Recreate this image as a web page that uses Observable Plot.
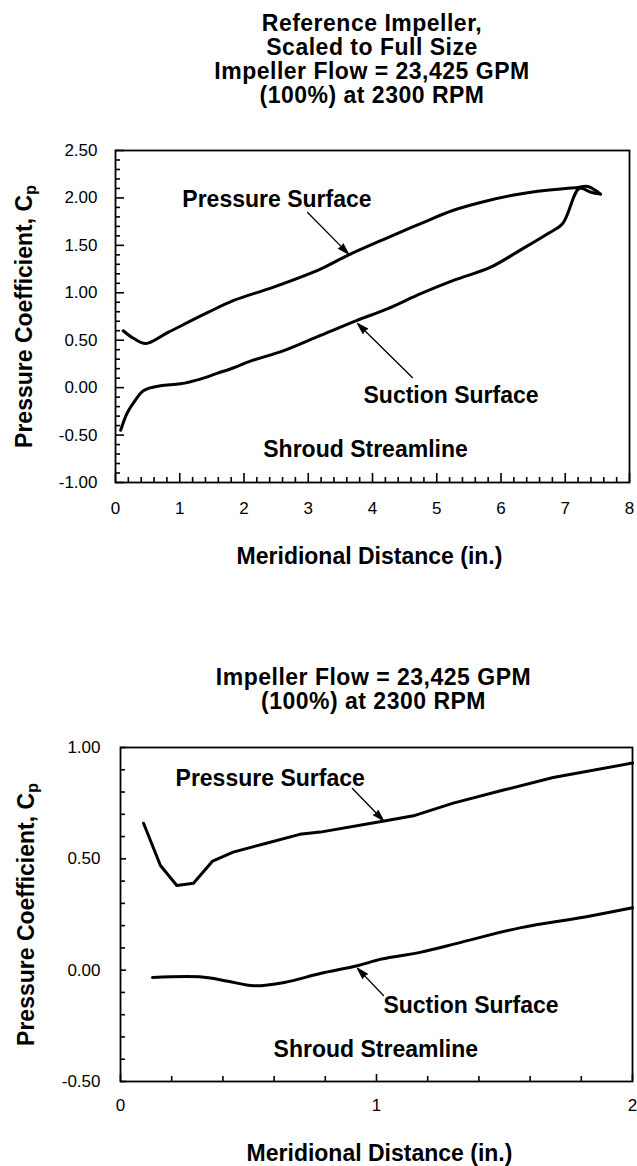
<!DOCTYPE html>
<html><head><meta charset="utf-8">
<script src="https://cdn.jsdelivr.net/npm/d3@7"></script>
<script src="https://cdn.jsdelivr.net/npm/@observablehq/plot@0.6"></script>
<style>
body{margin:0;background:#fff;width:637px;height:1166px;overflow:hidden;font-family:"Liberation Sans",Arial,Helvetica,sans-serif;color:#000;}
.title{font-weight:bold;font-size:23px;line-height:24px;letter-spacing:0.5px;text-align:center;color:#000;box-sizing:border-box;white-space:nowrap;}
svg{display:block;}
</style></head><body>
<div id="t1" class="title" style="height:115px;padding-top:11px;padding-left:115px;padding-right:8px;"></div>
<div id="c1"></div>
<div id="t2" class="title" style="height:105px;padding-top:50px;padding-left:120px;padding-right:10px;"></div>
<div id="c2"></div>
<script>
// ---------- text ----------
const topTitle = ["Reference Impeller,", "Scaled to Full Size", "Impeller Flow = 23,425 GPM", "(100%) at 2300 RPM"];
const bottomTitle = ["Impeller Flow = 23,425 GPM", "(100%) at 2300 RPM"];
const xLabel = "Meridional Distance (in.)";
const yLabel = "Pressure Coefficient, C";
const ySub = "p";
const seriesNames = ["Pressure Surface", "Suction Surface"];
const noteName = "Shroud Streamline";

// ---------- top chart data (full blade) ----------
const topPressX = [0.12, 0.28, 0.47, 0.81, 1.43, 1.84, 2.46, 3.19, 3.63, 4.23, 4.75, 5.26, 5.79, 6.2, 6.57, 7.19, 7.35, 7.55];
const topPressY = [0.60, 0.52, 0.465, 0.58, 0.79, 0.92, 1.06, 1.25, 1.40, 1.58, 1.73, 1.87, 1.97, 2.03, 2.07, 2.11, 2.12, 2.04];
const topSuctX = [0.08, 0.18, 0.28, 0.44, 0.70, 1.01, 1.32, 1.58, 1.84, 2.1, 2.62, 3.19, 3.76, 4.23, 4.75, 5.26, 5.84, 6.3, 6.72, 6.96, 7.22, 7.4, 7.55];
const topSuctY = [-0.45, -0.27, -0.16, -0.03, 0.02, 0.04, 0.09, 0.15, 0.21, 0.28, 0.39, 0.55, 0.71, 0.83, 0.99, 1.13, 1.27, 1.45, 1.62, 1.73, 2.10, 2.06, 2.04];
const topXTicks = [0, 1, 2, 3, 4, 5, 6, 7, 8];
const topXMinor = [0.2,0.4,0.6,0.8,1.2,1.4,1.6,1.8,2.2,2.4,2.6,2.8,3.2,3.4,3.6,3.8,4.2,4.4,4.6,4.8,5.2,5.4,5.6,5.8,6.2,6.4,6.6,6.8,7.2,7.4,7.6,7.8];
const topYTicks = [-1, -0.5, 0, 0.5, 1, 1.5, 2, 2.5];
const topYMinor = [-0.9,-0.8,-0.7,-0.6,-0.4,-0.3,-0.2,-0.1,0.1,0.2,0.3,0.4,0.6,0.7,0.8,0.9,1.1,1.2,1.3,1.4,1.6,1.7,1.8,1.9,2.1,2.2,2.3,2.4];
const topNoteX = [1.04, 3.86, 2.30];
const topNoteY = [1.977, -0.079, -0.658];
const topArrX1 = [2.99, 4.62], topArrY1 = [1.846, 0.107];
const topArrX2 = [3.626, 3.767], topArrY2 = [1.41, 0.676];

// ---------- bottom chart data (leading edge) ----------
const botPressX = [0.09, 0.156, 0.22, 0.285, 0.36, 0.44, 0.57, 0.70, 0.78, 1.03, 1.15, 1.30, 1.50, 1.69, 2.0];
const botPressY = [0.66, 0.47, 0.38, 0.39, 0.49, 0.53, 0.57, 0.61, 0.62, 0.67, 0.695, 0.75, 0.81, 0.865, 0.93];
const botSuctX = [0.125, 0.31, 0.42, 0.52, 0.64, 0.78, 0.925, 1.02, 1.17, 1.33, 1.56, 1.82, 2.0];
const botSuctY = [-0.033, -0.03, -0.05, -0.07, -0.055, -0.015, 0.02, 0.05, 0.08, 0.125, 0.19, 0.24, 0.28];
const botXTicks = [0, 1, 2];
const botXMinor = [0.2, 0.4, 0.6, 0.8, 1.2, 1.4, 1.6, 1.8];
const botYTicks = [-0.5, 0, 0.5, 1];
const botYMinor = [-0.4,-0.3,-0.2,-0.1,0.1,0.2,0.3,0.4,0.6,0.7,0.8,0.9];
const botNoteX = [0.215, 1.027, 0.598];
const botNoteY = [0.858, -0.157, -0.359];
const botArrX1 = [0.906, 1.027], botArrY1 = [0.816, -0.114];
const botArrX2 = [1.027, 0.926], botArrY2 = [0.672, 0.008];

// ---------- titles ----------
function fillTitle(id, lines) {
  const el = document.getElementById(id);
  lines.forEach(t => { const d = document.createElement("div"); d.textContent = t; el.appendChild(d); });
}
fillTitle("t1", topTitle);
fillTitle("t2", bottomTitle);

const FONT = "'Liberation Sans', Arial, Helvetica, sans-serif";

function chart(cfg) {
  const pts = [];
  cfg.pX.forEach((x, i) => pts.push({s: seriesNames[0], x, y: cfg.pY[i]}));
  const sts = [];
  cfg.sX.forEach((x, i) => sts.push({s: seriesNames[1], x, y: cfg.sY[i]}));
  const notes = [seriesNames[0], seriesNames[1], noteName].map((t, i) => ({t, x: cfg.nX[i], y: cfg.nY[i]}));
  const arrows = cfg.aX1.map((x1, i) => ({x1, y1: cfg.aY1[i], x2: cfg.aX2[i], y2: cfg.aY2[i]}));
  const svg = Plot.plot({
    width: 637, height: cfg.height,
    marginLeft: cfg.ml, marginRight: cfg.mr, marginTop: cfg.mt, marginBottom: cfg.mb,
    x: {domain: cfg.xDomain, axis: null, label: null},
    y: {domain: cfg.yDomain, axis: null, label: null},
    style: {fontFamily: FONT, color: "#000", background: "#fff", overflow: "visible"},
    marks: [
      // inward minor / major ticks (drawn outward then shifted into the frame)
      Plot.axisY(cfg.yMinor, {tickSize: cfg.yMinLen, dx: cfg.yMinLen, tickFormat: () => "", strokeWidth: 1.6, label: null}),
      Plot.axisY(cfg.yTicks, {tickSize: cfg.yMajLen, dx: cfg.yMajLen, tickFormat: () => "", strokeWidth: 1.6, label: null}),
      Plot.axisY(cfg.yTicks, {tickSize: 0, tickPadding: cfg.yPad, tickFormat: d => d.toFixed(2), fontSize: 17, label: null}),
      Plot.axisX(cfg.xMinor, {tickSize: cfg.xMinLen, dy: -cfg.xMinLen, tickFormat: () => "", strokeWidth: 1.6, label: null}),
      Plot.axisX(cfg.xTicks, {tickSize: cfg.xMajLen, dy: -cfg.xMajLen, tickFormat: () => "", strokeWidth: 1.6, label: null}),
      Plot.axisX(cfg.xTicks, {tickSize: 0, tickPadding: cfg.xPad, tickFormat: d => String(d), fontSize: 17, label: null}),
      Plot.frame({stroke: "#000", strokeWidth: 1.8}),
      Plot.line(pts, {x: "x", y: "y", stroke: "#000", strokeWidth: 3, curve: cfg.pCurve}),
      Plot.line(sts, {x: "x", y: "y", stroke: "#000", strokeWidth: 3, curve: cfg.sCurve}),
      Plot.arrow(arrows, {x1: "x1", y1: "y1", x2: "x2", y2: "y2", stroke: "#000", fill: "#000", strokeWidth: 1.3, headLength: 13, headAngle: 32}),
      Plot.text(notes, {x: "x", y: "y", text: "t", textAnchor: "start", lineAnchor: "middle", fontSize: 23, fontWeight: "bold", fill: "#000"}),
      Plot.text([xLabel], {text: d => d, frameAnchor: "bottom", lineAnchor: "middle", textAnchor: "middle", dy: cfg.xlDy, dx: cfg.xlDx, fontSize: 23, fontWeight: "bold", fill: "#000"}),
      Plot.text([yLabel], {text: d => d, frameAnchor: "left", rotate: -90, lineAnchor: "middle", textAnchor: "middle", dx: cfg.ylDx, dy: 0, fontSize: 23, fontWeight: "bold", fill: "#000"})
    ]
  });
  // add the subscript "p" to the y-axis label
  svg.querySelectorAll("text").forEach(t => {
    if (t.textContent === yLabel) {
      const ts = document.createElementNS("http://www.w3.org/2000/svg", "tspan");
      ts.setAttribute("dy", "0.28em");
      ts.setAttribute("font-size", "16");
      ts.textContent = ySub;
      t.appendChild(ts);
    }
  });
  return svg;
}

document.getElementById("c1").appendChild(chart({
  height: 500, ml: 115, mr: 8, mt: 35, mb: 133,
  xDomain: [0, 8], yDomain: [-1, 2.5],
  pX: topPressX, pY: topPressY, sX: topSuctX, sY: topSuctY,
  pCurve: "catmull-rom", sCurve: "catmull-rom",
  xTicks: topXTicks, xMinor: topXMinor, yTicks: topYTicks, yMinor: topYMinor,
  yMinLen: 5, yMajLen: 9, xMinLen: 5, xMajLen: 9, yPad: 18, xPad: 19,
  nX: topNoteX, nY: topNoteY,
  aX1: topArrX1, aY1: topArrY1, aX2: topArrX2, aY2: topArrY2,
  xlDy: 74, xlDx: -3, ylDx: -91
}));

document.getElementById("c2").appendChild(chart({
  height: 446, ml: 120, mr: 5, mt: 27, mb: 85,
  xDomain: [0, 2], yDomain: [-0.5, 1],
  pX: botPressX, pY: botPressY, sX: botSuctX, sY: botSuctY,
  pCurve: "linear", sCurve: "catmull-rom",
  xTicks: botXTicks, xMinor: botXMinor, yTicks: botYTicks, yMinor: botYMinor,
  yMinLen: 5, yMajLen: 6, xMinLen: 5, xMajLen: 7, yPad: 20, xPad: 17,
  nX: botNoteX, nY: botNoteY,
  aX1: botArrX1, aY1: botArrY1, aX2: botArrX2, aY2: botArrY2,
  xlDy: 72, xlDx: 3, ylDx: -94
}));
</script>
</body></html>
